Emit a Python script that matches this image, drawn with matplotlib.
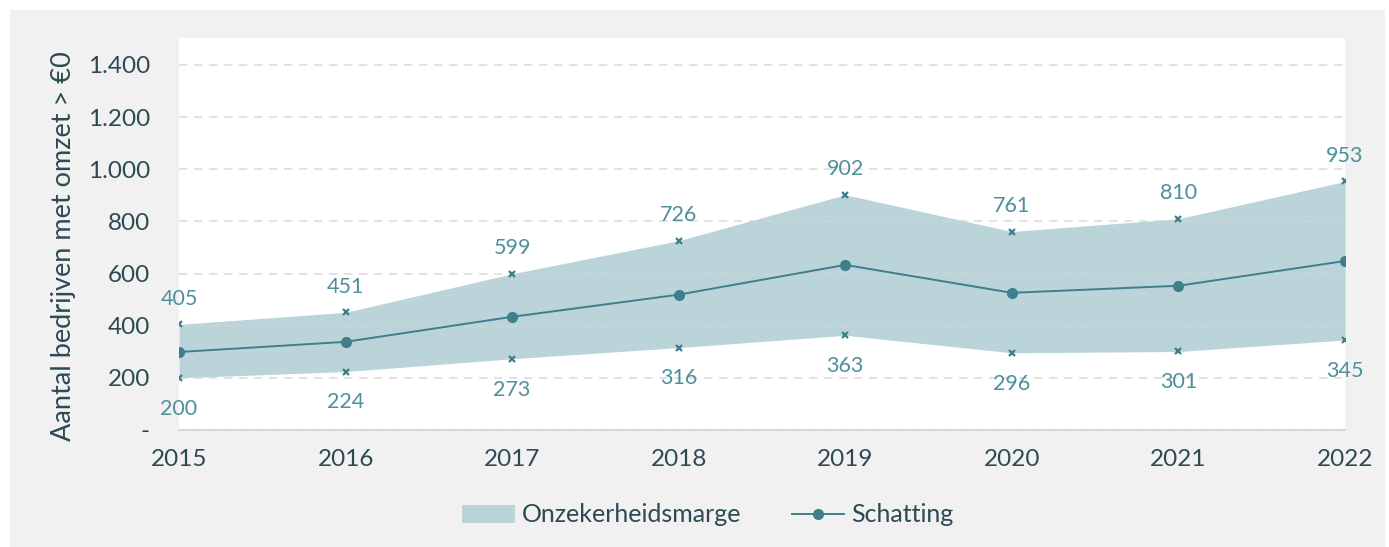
import matplotlib
matplotlib.use("Agg")
import matplotlib.pyplot as plt
from matplotlib.patches import Rectangle, Patch
from matplotlib.lines import Line2D
from matplotlib.ticker import FuncFormatter

years = ["2015", "2016", "2017", "2018", "2019", "2020", "2021", "2022"]
estimate = [299, 338, 434, 519, 633, 526, 553, 648]
upper = [405, 451, 599, 726, 902, 761, 810, 953]
lower = [200, 224, 273, 316, 363, 296, 301, 345]

plt.rcParams['font.family'] = ['Lato', 'DejaVu Sans']

TEXT = "#2d4a52"
TEAL = "#3f7f8c"
LABEL = "#4f8f9c"
FILL = "#bad4d9"

fig = plt.figure(figsize=(13.89, 5.47), dpi=100)
fig.patch.set_facecolor("white")
fig.patches.append(Rectangle((10/1389, 0), (1385-10)/1389, 1 - 10/547,
                             transform=fig.transFigure, facecolor="#f1f1f1",
                             edgecolor="none", zorder=-10))

ax = fig.add_axes([179/1389, 1 - 430/547, (1345-179)/1389, (430-38)/547])
ax.set_facecolor("white")
x = list(range(len(years)))

ax.fill_between(x, lower, upper, color=FILL, linewidth=0, zorder=1)
ax.plot(x, estimate, color=TEAL, lw=1.4, marker="o", ms=7, zorder=3)
ax.plot(x, upper, ls="none", marker="x", ms=4, mew=1.6, color=TEAL, zorder=3)
ax.plot(x, lower, ls="none", marker="x", ms=4, mew=1.6, color=TEAL, zorder=3)

for xi, u, l in zip(x, upper, lower):
    ax.annotate(f"{u}", (xi, u), xytext=(0, 11), textcoords="offset points",
                ha="center", va="bottom", color=LABEL, fontsize=15.5)
    ax.annotate(f"{l}", (xi, l), xytext=(0, -15), textcoords="offset points",
                ha="center", va="top", color=LABEL, fontsize=15.5)

ax.set_xlim(0, len(years) - 1)
ax.set_ylim(0, 1503)
ax.set_yticks([0, 200, 400, 600, 800, 1000, 1200, 1400])
ax.yaxis.set_major_formatter(FuncFormatter(
    lambda v, p: "-" if v == 0 else f"{int(v):,}".replace(",", ".")))
ax.set_xticks(x)
ax.set_xticklabels(years)
ax.tick_params(axis="both", length=0, labelsize=17.5, labelcolor=TEXT)
ax.tick_params(axis="y", pad=21)
ax.tick_params(axis="x", pad=14)

ax.grid(axis="y", color="#d4d4d4", ls=(0, (5, 4)), lw=1.2, alpha=0.8, zorder=2)
ax.set_axisbelow(False)
for s in ["top", "right", "left"]:
    ax.spines[s].set_visible(False)
ax.spines["bottom"].set_color("#d9d9d9")
ax.spines["bottom"].set_linewidth(1.5)
ax.spines["bottom"].set_zorder(0.5)

ax.set_ylabel("Aantal bedrijven met omzet > €0", fontsize=19.5, color=TEXT)
ax.yaxis.set_label_coords(-0.088, 0.47)

handles = [Patch(facecolor=FILL, edgecolor="none"),
           Line2D([0], [0], color=TEAL, lw=1.4, marker="o", ms=7)]
fig.legend(handles, ["Onzekerheidsmarge", "Schatting"], loc="center",
           bbox_to_anchor=(708/1389, 1 - 515/547), ncol=2, frameon=False,
           fontsize=18, labelcolor=TEXT, handlelength=2.1, handletextpad=0.3,
           columnspacing=2.0)

fig.savefig("out.png", dpi=100)
